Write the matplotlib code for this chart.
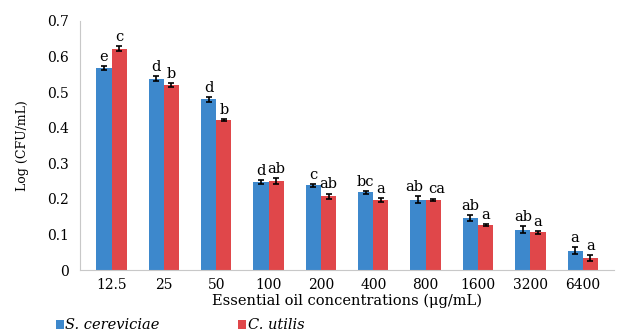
import numpy as np
import matplotlib
matplotlib.use('Agg')
from matplotlib import pyplot as plt

concentrations = ['12.5', '25', '50', '100', '200', '400', '800', '1600', '3200', '6400']
s_cerev = [0.567, 0.538, 0.480, 0.247, 0.238, 0.219, 0.198, 0.146, 0.113, 0.055]
s_cerev_err = [0.006, 0.008, 0.007, 0.006, 0.004, 0.004, 0.009, 0.008, 0.010, 0.010]
s_cerev_letters = ['e', 'd', 'd', 'd', 'c', 'bc', 'ab', 'ab', 'ab', 'a']
c_utilis = [0.622, 0.520, 0.421, 0.250, 0.207, 0.197, 0.197, 0.127, 0.106, 0.034]
c_utilis_err = [0.007, 0.006, 0.002, 0.008, 0.008, 0.006, 0.004, 0.003, 0.005, 0.008]
c_utilis_letters = ['c', 'b', 'b', 'ab', 'ab', 'a', 'ca', 'a', 'a', 'a']

plt.rcParams['font.family'] = ['DejaVu Serif']

fig = plt.figure(figsize=(6.26, 3.36), dpi=100)
ax = fig.add_axes([0.128, 0.196, 0.853, 0.742])

x = np.arange(len(concentrations))
w = 0.29
blue = '#3d88cc'
red = '#e0474a'
ekw = dict(ecolor='black', elinewidth=1.2, capsize=2.5, capthick=1.2)

b1 = ax.bar(x - w / 2, s_cerev, w, color=blue, yerr=s_cerev_err, error_kw=ekw)
b2 = ax.bar(x + w / 2, c_utilis, w, color=red, yerr=c_utilis_err, error_kw=ekw)

for i in range(len(x)):
    # push the two letters apart a little when both are two characters wide
    dx = 2.5 if len(s_cerev_letters[i]) + len(c_utilis_letters[i]) > 3 and \
        abs(s_cerev[i] - c_utilis[i]) < 0.03 else 0
    ax.annotate(s_cerev_letters[i], (x[i] - w / 2, s_cerev[i] + s_cerev_err[i]),
                xytext=(-dx, 1.5), textcoords='offset points',
                ha='center', va='bottom', fontsize=10.5)
    ax.annotate(c_utilis_letters[i], (x[i] + w / 2, c_utilis[i] + c_utilis_err[i]),
                xytext=(dx, 1.5), textcoords='offset points',
                ha='center', va='bottom', fontsize=10.5)

ax.set_xlim(-0.6, 9.6)
ax.set_ylim(0, 0.7)
ax.set_yticks(np.arange(0, 0.71, 0.1))
ax.set_yticklabels(['0', '0.1', '0.2', '0.3', '0.4', '0.5', '0.6', '0.7'], fontsize=10)
ax.set_xticks(x)
ax.set_xticklabels(concentrations, fontsize=10)
ax.tick_params(axis='y', length=0, pad=8)
ax.tick_params(axis='x', length=0, pad=6)
ax.spines['top'].set_visible(False)
ax.spines['right'].set_visible(False)
ax.spines['left'].set_color('#c8c8c8')
ax.spines['bottom'].set_color('#c8c8c8')

ax.set_xlabel('Essential oil concentrations (\u03bcg/mL)', fontsize=10.5, labelpad=1)
ax.set_ylabel('Log (CFU/mL)', fontsize=9, labelpad=13)

fig.legend([b1, b2], ['S. cereviciae', 'C. utilis'], loc='lower left',
           bbox_to_anchor=(0.068, -0.028), ncol=2, frameon=False,
           handlelength=0.55, handleheight=0.55, handletextpad=0.1,
           columnspacing=5.4, prop={'style': 'italic', 'size': 10.5})

plt.savefig('out.png', dpi=100)
